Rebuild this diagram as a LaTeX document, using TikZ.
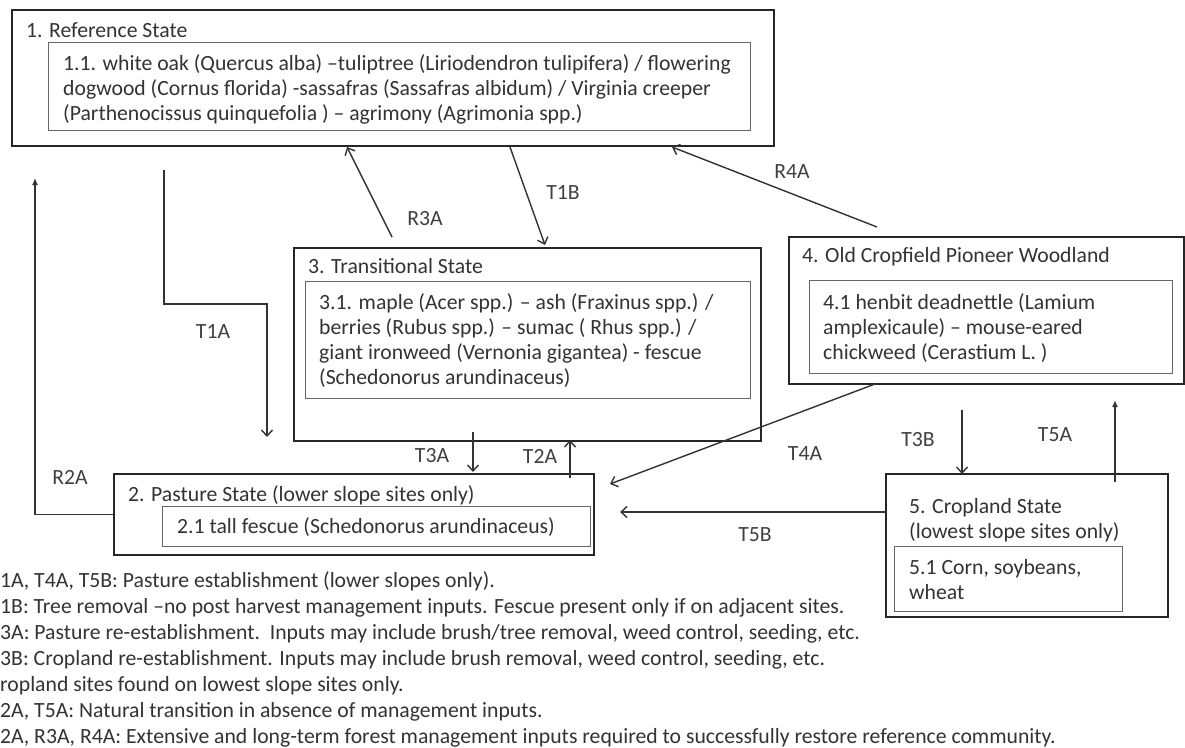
\documentclass[tikz,border=0pt]{standalone}
\usepackage{fontspec}
\setmainfont{Carlito}
\usetikzlibrary{arrows.meta}
\newcommand\boxsz{\fontsize{21.7}{25}\selectfont}
\newcommand\notesz{\fontsize{21.7}{26}\selectfont}
\begin{document}
\begin{tikzpicture}[x=1pt,y=-1pt,
  outerbox/.style={draw=black!85, line width=1.8pt, inner sep=0pt, anchor=north west},
  innerbox/.style={draw=black!60, line width=1.4pt, inner sep=0pt, anchor=north west},
  txt/.style={text=black!80, font=\boxsz, inner sep=0pt, align=left},
  note/.style={text=black!80, font=\notesz, inner sep=0pt, align=left, anchor=north west},
  lbl/.style={text=black!75, font=\boxsz, inner sep=0pt},
  arr/.style={draw=black!80, line width=1.4pt, -{Straight Barb[length=6pt,width=11pt]}},
  farr/.style={draw=black!80, line width=1.4pt, -{Latex[length=7pt,width=6pt]}}]
\useasboundingbox (0,0) rectangle (1185,747);
\fill[white] (0,0) rectangle (1185,747);

% boxes
\node[outerbox, minimum width=762pt, minimum height=136pt] (b1) at (11,9) {};
\node[innerbox, minimum width=702pt, minimum height=88pt] (b1i) at (48,42) {};
\node[outerbox, minimum width=467pt, minimum height=193pt] (b3) at (293,247) {};
\node[innerbox, minimum width=445pt, minimum height=117pt] (b3i) at (305,281) {};
\node[outerbox, minimum width=395pt, minimum height=147pt] (b4) at (788,236) {};
\node[innerbox, minimum width=363pt, minimum height=93pt] (b4i) at (809,280) {};
\node[outerbox, minimum width=480pt, minimum height=81pt] (b2) at (113,473) {};
\node[innerbox, minimum width=428pt, minimum height=40pt] (b2i) at (162,506) {};
\node[outerbox, minimum width=282pt, minimum height=143pt] (b5) at (885,473) {};
\node[innerbox, minimum width=228pt, minimum height=65pt] (b5i) at (894,546) {};

% box texts
\node[txt, anchor=base west] (t1) at (26,37) {1. Reference State};
\node[txt, anchor=north west] (t1i) at (63,54) {1.1. white oak (Quercus alba) –tuliptree (Liriodendron tulipifera) / flowering\\dogwood (Cornus florida) -sassafras (Sassafras albidum) / Virginia creeper\\(Parthenocissus quinquefolia ) – agrimony (Agrimonia spp.)};
\node[txt, anchor=base west] (t3) at (308,273) {3. Transitional State};
\node[txt, anchor=north west] (t3i) at (319,293) {3.1. maple (Acer spp.) – ash (Fraxinus spp.) /\\berries (Rubus spp.) – sumac ( Rhus spp.) /\\giant ironweed (Vernonia gigantea) - fescue\\(Schedonorus arundinaceus)};
\node[txt, anchor=base west] (t4) at (802,262) {4. Old Cropfield Pioneer Woodland};
\node[txt, anchor=north west] (t4i) at (823,293) {4.1 henbit deadnettle (Lamium\\amplexicaule) – mouse-eared\\chickweed (Cerastium L. )};
\node[txt, anchor=base west] (t2) at (128,501) {2. Pasture State (lower slope sites only)};
\node[txt, anchor=base west] (t2i) at (177,533) {2.1 tall fescue (Schedonorus arundinaceus)};
\node[txt, anchor=north west] (t5) at (909,498) {5. Cropland State\\(lowest slope sites only)};
\node[txt, anchor=north west] (t5i) at (909,559) {5.1 Corn, soybeans,\\wheat};

% connector end points
\coordinate (r2end) at (35,178);
\coordinate (t1aS) at (164,170);
\coordinate (t1aM) at (267,304);
\coordinate (t1aE) at (267,437);
\coordinate (r3S) at (392,237);
\coordinate (r3E) at (347,147);
\coordinate (t1bS) at (510,147);
\coordinate (t1bE) at (545,245);
\coordinate (r4S) at (877,227);
\coordinate (r4E) at (672,147);
\coordinate (t3aS) at (473,432);
\coordinate (t3aE) at (473,472);
\coordinate (t2aS) at (570,478);
\coordinate (t2aE) at (570,440);
\coordinate (t4aS) at (875,384);
\coordinate (t4aE) at (610,484);
\coordinate (t5bS) at (885,512);
\coordinate (t5bE) at (620,512);
\coordinate (t3bS) at (962,410);
\coordinate (t3bE) at (962,474);
\coordinate (t5aS) at (1115,482);
\coordinate (t5aE) at (1115,400);

% connectors
\draw[farr] (b2.west) -| (r2end);
\draw[arr] (t1aS) |- (t1aM) -- (t1aE);
\draw[arr] (r3S) -- (r3E);
\draw[arr] (t1bS) -- (t1bE);
\draw[arr] (r4S) -- (r4E);
\draw[arr] (t3aS) -- (t3aE);
\draw[arr] (t2aS) -- (t2aE);
\draw[arr] (t4aS) -- (t4aE);
\draw[arr] (t5bS) -- (t5bE);
\draw[arr] (t3bS) -- (t3bE);
\draw[farr] (t5aS) -- (t5aE);

% labels
\node[lbl] (lT1A) at (213,332) {T1A};
\node[lbl] (lR3A) at (425,219) {R3A};
\node[lbl] (lT1B) at (563,193) {T1B};
\node[lbl] (lR4A) at (792,172) {R4A};
\node[lbl] (lR2A) at (70,477) {R2A};
\node[lbl] (lT3A) at (432,456) {T3A};
\node[lbl] (lT2A) at (540,456) {T2A};
\node[lbl] (lT4A) at (805,454) {T4A};
\node[lbl] (lT3B) at (918,440) {T3B};
\node[lbl] (lT5A) at (1055,435) {T5A};
\node[lbl] (lT5B) at (755,535) {T5B};

% notes
\node[note] (notes) at (0,571) {1A, T4A, T5B: Pasture establishment (lower slopes only).\\
1B: Tree removal –no post harvest management inputs. Fescue present only if on adjacent sites.\\
3A: Pasture re-establishment.\ \ Inputs may include brush/tree removal, weed control, seeding, etc.\\
3B: Cropland re-establishment. Inputs may include brush removal, weed control, seeding, etc.\\
ropland sites found on lowest slope sites only.\\
2A, T5A: Natural transition in absence of management inputs.\\
2A, R3A, R4A: Extensive and long-term forest management inputs required to successfully restore reference community.};
\end{tikzpicture}
\end{document}
